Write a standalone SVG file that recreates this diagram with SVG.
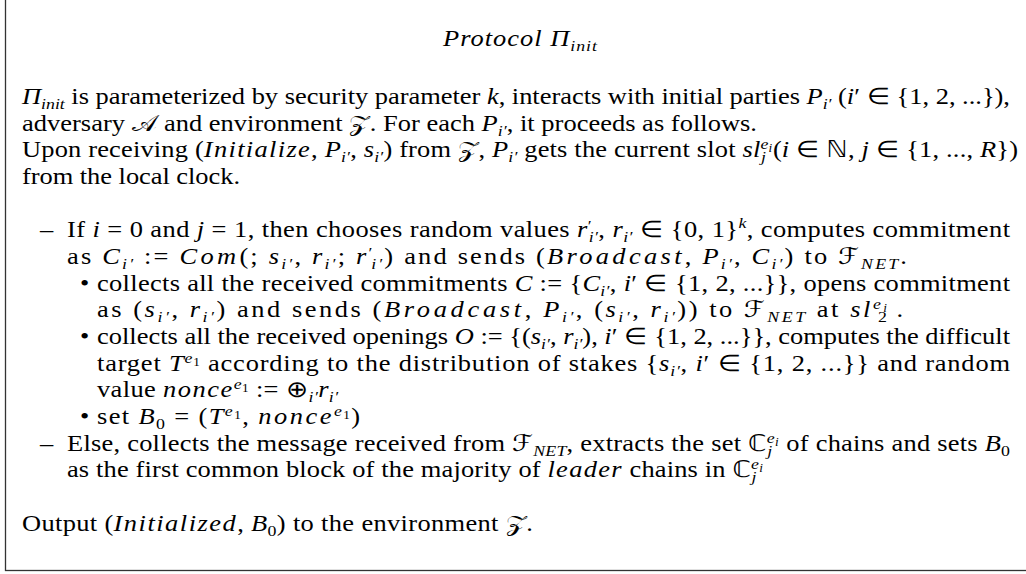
<svg xmlns="http://www.w3.org/2000/svg" width="1026" height="574" viewBox="0 0 1026 574">
<style>
.tx{font-family:"Liberation Serif","Times New Roman",Times,serif;font-size:23px;fill:#000}
.it{font-style:italic}
.mw{letter-spacing:1px}
.sb{font-size:15.5px}
.ss{font-size:11.5px}
.cal{font-family:"DejaVu Sans","DejaVu Serif",serif;font-style:normal}
.bb{font-family:"DejaVu Sans","DejaVu Serif",serif;font-style:normal}
.frame{fill:none;stroke:#333;stroke-width:1.3}
</style>
<rect width="1026" height="574" fill="#fff"/>
<!-- frame of the protocol box -->
<rect class="frame" x="5.5" y="-10" width="1040" height="580.5"/>

<!-- all text is set in a horizontally widened face; x and lengths below are in the widened frame -->
<g transform="scale(1.15,1)">
<g id="title">
<text class="tx it" x="385.22" y="46" textLength="133.9" lengthAdjust="spacing">Protocol Π<tspan class="sb" dy="5">init</tspan></text>
</g>

<g id="intro">
<text class="tx" x="19.13" y="104" textLength="859.1" lengthAdjust="spacing"><tspan class="it">Π</tspan><tspan class="sb it" dy="5">init</tspan><tspan dy="-5"> is parameterized by security parameter </tspan><tspan class="it">k</tspan>, interacts with initial parties <tspan class="it">P</tspan><tspan class="sb it" dy="5">i′</tspan><tspan dy="-5"> (</tspan><tspan class="it">i</tspan>′ ∈ {1, 2, ...}),</text>
<text class="tx" x="19.13" y="130.7" textLength="639.1" lengthAdjust="spacing">adversary <tspan class="cal">𝒜</tspan> and environment <tspan class="cal">𝒵</tspan>. For each <tspan class="it">P</tspan><tspan class="sb it" dy="5">i′</tspan><tspan dy="-5">, it proceeds as follows.</tspan></text>
<text class="tx" x="19.13" y="157.4" textLength="866.1" lengthAdjust="spacing">Upon receiving (<tspan class="it mw">Initialize</tspan>, <tspan class="it">P</tspan><tspan class="sb it" dy="5">i′</tspan><tspan dy="-5">, </tspan><tspan class="it">s</tspan><tspan class="sb it" dy="5">i′</tspan><tspan dy="-5">) from </tspan><tspan class="cal">𝒵</tspan>, <tspan class="it">P</tspan><tspan class="sb it" dy="5">i′</tspan><tspan dy="-5"> gets the current slot </tspan><tspan class="it">sl</tspan><tspan class="sb it" dy="-8">e</tspan><tspan class="ss it" dy="3">i</tspan><tspan class="sb it" dx="-10" dy="10">j</tspan><tspan dx="6" dy="-5">(</tspan><tspan class="it">i</tspan> ∈ <tspan class="bb">ℕ</tspan>, <tspan class="it">j</tspan> ∈ {1, ..., <tspan class="it">R</tspan>})</text>
<text class="tx" x="19.13" y="184" textLength="189.6" lengthAdjust="spacing">from the local clock.</text>
</g>

<g id="case-first-slot">
<text class="tx" x="34.78" y="237.5">–</text>
<text class="tx" x="58.26" y="237.5" textLength="820" lengthAdjust="spacing">If <tspan class="it">i</tspan> = 0 and <tspan class="it">j</tspan> = 1, then chooses random values <tspan class="it">r</tspan><tspan class="sb" dy="-6">′</tspan><tspan class="sb it" dx="-3" dy="11">i′</tspan><tspan dy="-5">, </tspan><tspan class="it">r</tspan><tspan class="sb it" dy="5">i′</tspan><tspan dy="-5"> ∈ {0, 1}</tspan><tspan class="sb it" dy="-9">k</tspan><tspan dy="9">, computes commitment</tspan></text>
<text class="tx" x="58.26" y="264" textLength="730.4" lengthAdjust="spacing">as <tspan class="it">C</tspan><tspan class="sb it" dy="5">i′</tspan><tspan dy="-5"> := </tspan><tspan class="it mw">Com</tspan>(; <tspan class="it">s</tspan><tspan class="sb it" dy="5">i′</tspan><tspan dy="-5">, </tspan><tspan class="it">r</tspan><tspan class="sb it" dy="5">i′</tspan><tspan dy="-5">; </tspan><tspan class="it">r</tspan><tspan class="sb" dy="-6">′</tspan><tspan class="sb it" dx="-3" dy="11">i′</tspan><tspan dy="-5">) and sends (</tspan><tspan class="it mw">Broadcast</tspan>, <tspan class="it">P</tspan><tspan class="sb it" dy="5">i′</tspan><tspan dy="-5">, </tspan><tspan class="it">C</tspan><tspan class="sb it" dy="5">i′</tspan><tspan dy="-5">) to </tspan><tspan class="cal">ℱ</tspan><tspan class="sb it" dy="5">NET</tspan><tspan dy="-5">.</tspan></text>

<text class="tx" x="69.57" y="291">•</text>
<text class="tx" x="84.35" y="291" textLength="793.9" lengthAdjust="spacing">collects all the received commitments <tspan class="it">C</tspan> := {<tspan class="it">C</tspan><tspan class="sb it" dy="5">i′</tspan><tspan dy="-5">, </tspan><tspan class="it">i</tspan>′ ∈ {1, 2, ...}}, opens commitment</text>
<text class="tx" x="84.35" y="317.5" textLength="700.9" lengthAdjust="spacing">as (<tspan class="it">s</tspan><tspan class="sb it" dy="5">i′</tspan><tspan dy="-5">, </tspan><tspan class="it">r</tspan><tspan class="sb it" dy="5">i′</tspan><tspan dy="-5">) and sends (</tspan><tspan class="it mw">Broadcast</tspan>, <tspan class="it">P</tspan><tspan class="sb it" dy="5">i′</tspan><tspan dy="-5">, (</tspan><tspan class="it">s</tspan><tspan class="sb it" dy="5">i′</tspan><tspan dy="-5">, </tspan><tspan class="it">r</tspan><tspan class="sb it" dy="5">i′</tspan><tspan dy="-5">)) to </tspan><tspan class="cal">ℱ</tspan><tspan class="sb it" dy="5">NET</tspan><tspan dy="-5"> at </tspan><tspan class="it">sl</tspan><tspan class="sb it" dy="-8">e</tspan><tspan class="ss it" dy="3">i</tspan><tspan class="sb" dx="-10" dy="10">2</tspan><tspan dx="6" dy="-5">.</tspan></text>

<text class="tx" x="69.57" y="344">•</text>
<text class="tx" x="84.35" y="344" textLength="793.9" lengthAdjust="spacing">collects all the received openings <tspan class="it">O</tspan> := {(<tspan class="it">s</tspan><tspan class="sb it" dy="5">i′</tspan><tspan dy="-5">, </tspan><tspan class="it">r</tspan><tspan class="sb it" dy="5">i′</tspan><tspan dy="-5">), </tspan><tspan class="it">i</tspan>′ ∈ {1, 2, ...}}, computes the difficult</text>
<text class="tx" x="84.35" y="371" textLength="793.9" lengthAdjust="spacing">target <tspan class="it">T</tspan><tspan class="sb it" dy="-8">e</tspan><tspan class="ss" dy="3">1</tspan><tspan dy="5"> according to the distribution of stakes {</tspan><tspan class="it">s</tspan><tspan class="sb it" dy="5">i′</tspan><tspan dy="-5">, </tspan><tspan class="it">i</tspan>′ ∈ {1, 2, ...}} and random</text>
<text class="tx" x="84.35" y="397.5" textLength="209.6" lengthAdjust="spacing">value <tspan class="it mw">nonce</tspan><tspan class="sb it" dy="-8">e</tspan><tspan class="ss" dy="3">1</tspan><tspan dy="5"> := ⊕</tspan><tspan class="sb it" dy="5">i′</tspan><tspan class="it" dy="-5">r</tspan><tspan class="sb it" dy="5">i′</tspan></text>

<text class="tx" x="69.57" y="424">•</text>
<text class="tx" x="84.35" y="424" textLength="228.7" lengthAdjust="spacing">set <tspan class="it">B</tspan><tspan class="sb" dy="5">0</tspan><tspan dy="-5"> = (</tspan><tspan class="it">T</tspan><tspan class="sb it" dy="-8">e</tspan><tspan class="ss" dy="3">1</tspan><tspan dy="5">, </tspan><tspan class="it mw">nonce</tspan><tspan class="sb it" dy="-8">e</tspan><tspan class="ss" dy="3">1</tspan><tspan dy="5">)</tspan></text>
</g>

<g id="case-other-slot">
<text class="tx" x="34.78" y="451">–</text>
<text class="tx" x="58.26" y="451" textLength="820" lengthAdjust="spacing">Else, collects the message received from <tspan class="cal">ℱ</tspan><tspan class="sb it" dy="5">NET</tspan><tspan dy="-5">, extracts the set </tspan><tspan class="bb">ℂ</tspan><tspan class="sb it" dy="-8">e</tspan><tspan class="ss it" dy="3">i</tspan><tspan class="sb it" dx="-10" dy="10">j</tspan><tspan dx="6" dy="-5"> of chains and sets </tspan><tspan class="it">B</tspan><tspan class="sb" dy="5">0</tspan></text>
<text class="tx" x="58.26" y="477.5" textLength="605.2" lengthAdjust="spacing">as the first common block of the majority of <tspan class="it mw">leader</tspan> chains in <tspan class="bb">ℂ</tspan><tspan class="sb it" dy="-8">e</tspan><tspan class="ss it" dy="3">i</tspan><tspan class="sb it" dx="-10" dy="10">j</tspan></text>
</g>

<g id="output">
<text class="tx" x="19.13" y="531" textLength="444.3" lengthAdjust="spacing">Output (<tspan class="it mw">Initialized</tspan>, <tspan class="it">B</tspan><tspan class="sb" dy="5">0</tspan><tspan dy="-5">) to the environment </tspan><tspan class="cal">𝒵</tspan>.</text>
</g>
</g>
</svg>
